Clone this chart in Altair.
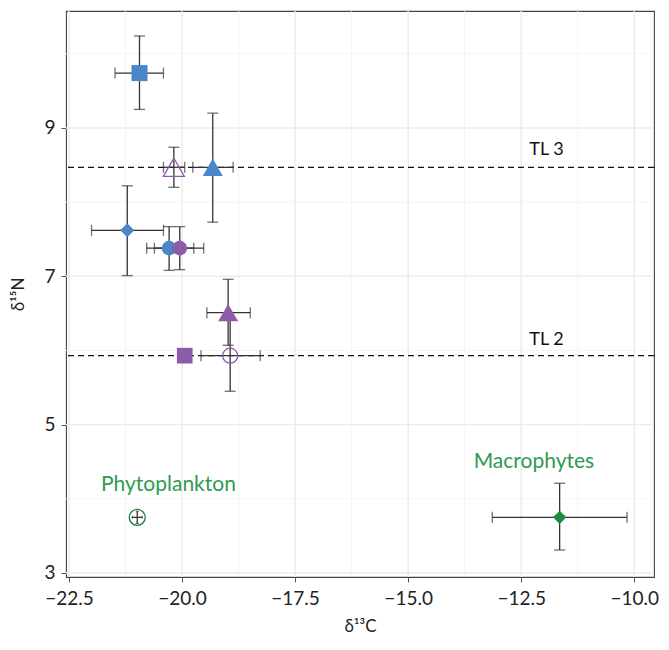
import altair as alt
import pandas as pd

# ---- data ----
names   = ["A_sq", "P_otri", "A_tri", "A_dia", "A_cir", "P_cir", "P_tri", "P_ocir", "P_sq", "Phyto", "Macro"]
group   = ["blue", "purple", "blue", "blue", "blue", "purple", "purple", "purple", "purple", "phyto", "macro"]
shape   = ["square", "triangle-up", "triangle-up", "diamond", "circle", "circle", "triangle-up", "circle", "square", "circle", "diamond"]
filled  = [True, False, True, True, True, True, True, False, True, False, True]
d13C    = [-20.94, -20.18, -19.32, -21.21, -20.285, -20.05, -18.98, -18.935, -19.94, -20.99, -11.65]
d13C_lo = [-21.48, -20.41, -19.76, -22.00, -20.78, -20.61, -19.45, -19.58, -20.06, -21.10, -13.14]
d13C_hi = [-20.41, -19.94, -18.87, -20.41, -19.74, -19.52, -18.49, -18.27, -19.82, -20.88, -10.16]
d15N    = [9.74, 8.47, 8.47, 7.62, 7.38, 7.38, 6.51, 5.93, 5.93, 3.75, 3.75]
d15N_lo = [9.25, 8.20, 7.73, 7.01, 7.08, 7.09, 6.07, 5.45, 5.86, 3.67, 3.31]
d15N_hi = [10.24, 8.74, 9.20, 8.22, 7.67, 7.67, 6.96, 6.42, 6.00, 3.83, 4.21]
sizes   = [256, 440, 400, 196, 216, 216, 400, 225, 246, 256, 180]
capsize = [11, 11, 11, 11, 11, 11, 11, 11, 11, 3, 11]

tl_vals   = [8.47, 5.93]
tl_labels = ["TL 3", "TL 2"]
tl_lab_x  = [-11.94, -11.94]
tl_lab_y  = [8.70, 6.14]

src_labels = ["Phytoplankton", "Macrophytes"]
src_lab_x  = [-20.30, -12.22]
src_lab_y  = [4.19, 4.50]

x_ticks = [-22.5, -20.0, -17.5, -15.0, -12.5, -10.0]
x_minor = [-21.25, -18.75, -16.25, -13.75, -11.25]
y_ticks = [3, 5, 7, 9]
y_minor = [4, 6, 8, 10]

X_DOM = [-22.565, -9.564]
Y_DOM = [2.946, 10.577]

df = pd.DataFrame(dict(name=names, group=group, shape=shape, filled=filled,
                       x=d13C, xlo=d13C_lo, xhi=d13C_hi,
                       y=d15N, ylo=d15N_lo, yhi=d15N_hi, size=sizes, cap=capsize))

col_dom = ["blue", "purple", "phyto", "macro"]
col_rng = ["#4A86C8", "#8E5BA8", "#1E7D3C", "#1E8B43"]

xs = alt.Scale(domain=X_DOM, nice=False, zero=False)
ys = alt.Scale(domain=Y_DOM, nice=False, zero=False)

FONT = "Lato"

xax = alt.Axis(values=x_ticks, format=".1f", grid=False, title="δ¹³C",
               labelFont=FONT, labelFontSize=19, labelColor="#222222",
               titleFont=FONT, titleFontSize=17, titleFontWeight="normal", titleColor="#222222",
               titlePadding=10, labelPadding=7, tickColor="#555555", tickSize=5,
               domain=False)
yax = alt.Axis(values=y_ticks, format="d", grid=False, title="δ¹⁵N",
               labelFont=FONT, labelFontSize=19, labelColor="#222222",
               titleFont=FONT, titleFontSize=17, titleFontWeight="normal", titleColor="#222222",
               titlePadding=16, labelPadding=6, tickColor="#555555", tickSize=5,
               domain=False)

base = alt.Chart(df)

# grid
gx_major = alt.Chart(pd.DataFrame({"v": x_ticks})).mark_rule(color="#EBEBEB", strokeWidth=1.4).encode(
    x=alt.X("v:Q", scale=xs, axis=xax))
gx_minor = alt.Chart(pd.DataFrame({"v": x_minor})).mark_rule(color="#F2F2F2", strokeWidth=0.8).encode(
    x=alt.X("v:Q", scale=xs))
gy_major = alt.Chart(pd.DataFrame({"v": y_ticks})).mark_rule(color="#EBEBEB", strokeWidth=1.4).encode(
    y=alt.Y("v:Q", scale=ys, axis=yax))
gy_minor = alt.Chart(pd.DataFrame({"v": y_minor})).mark_rule(color="#F2F2F2", strokeWidth=0.8).encode(
    y=alt.Y("v:Q", scale=ys))

# trophic level lines
tl_df = pd.DataFrame({"v": tl_vals, "label": tl_labels, "lx": tl_lab_x, "ly": tl_lab_y})
tl_lines = alt.Chart(tl_df).mark_rule(color="#111111", strokeWidth=1.3, strokeDash=[6, 4]).encode(
    y=alt.Y("v:Q", scale=ys))
tl_text = alt.Chart(tl_df).mark_text(font=FONT, fontSize=18, color="#111111").encode(
    x=alt.X("lx:Q", scale=xs), y=alt.Y("ly:Q", scale=ys), text="label:N")

# error bars
EB = "#333333"
hbar = base.mark_rule(color=EB, strokeWidth=1.3).encode(
    x=alt.X("xlo:Q", scale=xs), x2="xhi:Q", y=alt.Y("y:Q", scale=ys))
vbar = base.mark_rule(color=EB, strokeWidth=1.3).encode(
    y=alt.Y("ylo:Q", scale=ys), y2="yhi:Q", x=alt.X("x:Q", scale=xs))
cap_size = alt.Size("cap:Q", scale=None)
cap_l = base.mark_tick(color=EB, orient="vertical", thickness=1.3).encode(
    x=alt.X("xlo:Q", scale=xs), y=alt.Y("y:Q", scale=ys), size=cap_size)
cap_r = base.mark_tick(color=EB, orient="vertical", thickness=1.3).encode(
    x=alt.X("xhi:Q", scale=xs), y=alt.Y("y:Q", scale=ys), size=cap_size)
cap_b = base.mark_tick(color=EB, orient="horizontal", thickness=1.3).encode(
    x=alt.X("x:Q", scale=xs), y=alt.Y("ylo:Q", scale=ys), size=cap_size)
cap_t = base.mark_tick(color=EB, orient="horizontal", thickness=1.3).encode(
    x=alt.X("x:Q", scale=xs), y=alt.Y("yhi:Q", scale=ys), size=cap_size)

color_enc = alt.Color("group:N", scale=alt.Scale(domain=col_dom, range=col_rng), legend=None)
shape_enc = alt.Shape("shape:N", scale=None)
size_enc = alt.Size("size:Q", scale=None)

pts_filled = alt.Chart(df[df["filled"]]).mark_point(filled=True, opacity=1, strokeWidth=0).encode(
    x=alt.X("x:Q", scale=xs), y=alt.Y("y:Q", scale=ys),
    color=color_enc, shape=shape_enc, size=size_enc)
pts_open = alt.Chart(df[~df["filled"]]).mark_point(filled=False, opacity=1, strokeWidth=1.3).encode(
    x=alt.X("x:Q", scale=xs), y=alt.Y("y:Q", scale=ys),
    color=color_enc, shape=shape_enc, size=size_enc)

src_df = pd.DataFrame({"label": src_labels, "lx": src_lab_x, "ly": src_lab_y})
src_text = alt.Chart(src_df).mark_text(font=FONT, fontSize=21, color="#2E9B50").encode(
    x=alt.X("lx:Q", scale=xs), y=alt.Y("ly:Q", scale=ys), text="label:N")

chart = alt.layer(
    gx_minor, gy_minor, gx_major, gy_major,
    tl_lines, tl_text,
    hbar, vbar, cap_l, cap_r, cap_b, cap_t,
    pts_open, pts_filled, src_text
).properties(
    width=588, height=566,
    autosize=alt.AutoSizeParams(type="none"),
    padding={"left": 58, "top": 3, "right": 7, "bottom": 60},
    background="white"
).configure_view(
    stroke="#444444", strokeWidth=1.1
)

chart.save("out.html", embed_options={"renderer": "svg", "actions": False})
